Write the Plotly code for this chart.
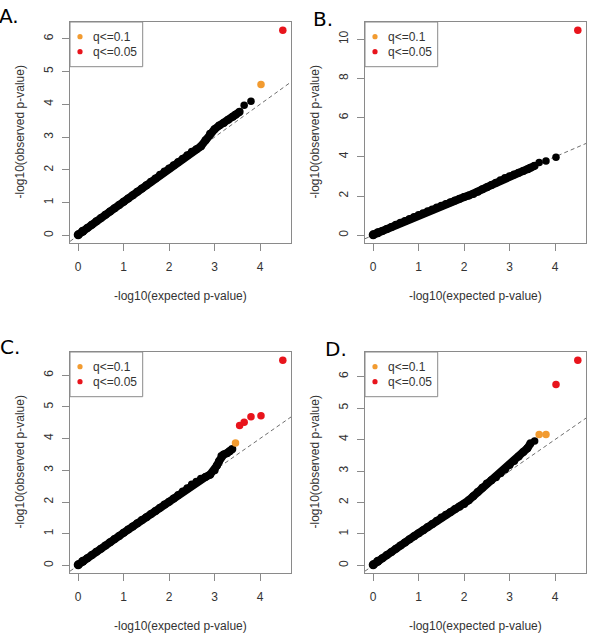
import plotly.graph_objects as go

W, H = 591, 643

# ---------------- data ----------------
panel_labels = ["A.", "B.", "C.", "D."]
legend_labels = ["q<=0.1", "q<=0.05"]
x_title = "-log10(expected p-value)"
y_title = "-log10(observed p-value)"
x_ticks = [0, 1, 2, 3, 4]
y_ticks_a = [0, 1, 2, 3, 4, 5, 6]
y_ticks_b = [0, 2, 4, 6, 8, 10]
y_ticks_c = [0, 1, 2, 3, 4, 5, 6]
y_ticks_d = [0, 1, 2, 3, 4, 5, 6]

# Panel A
a_x = [0.0, 0.1, 0.2, 0.3, 0.4, 0.5, 0.6, 0.7, 0.8, 0.9, 1.0, 1.1, 1.2, 1.3, 1.4, 1.5, 1.6, 1.7,
       1.8, 1.9, 2.0, 2.1, 2.2, 2.3, 2.4, 2.5, 2.6, 2.7, 2.8, 2.9, 3.0, 3.1, 3.2, 3.3, 3.4, 3.46, 3.55]
a_y = [0.02, 0.13, 0.23, 0.33, 0.43, 0.53, 0.63, 0.73, 0.83, 0.93, 1.03, 1.13, 1.23, 1.33, 1.43, 1.53, 1.64, 1.74,
       1.85, 1.95, 2.04, 2.14, 2.24, 2.34, 2.45, 2.55, 2.63, 2.72, 2.90, 3.10, 3.24, 3.35, 3.43, 3.53, 3.62, 3.68, 3.77]
a_tail_x = [3.65, 3.80]
a_tail_y = [3.97, 4.09]
a_q10_x = [4.02]
a_q10_y = [4.60]
a_q05_x = [4.50]
a_q05_y = [6.26]

# Panel B
b_x = [0.0, 0.1, 0.2, 0.3, 0.4, 0.5, 0.6, 0.7, 0.8, 0.9, 1.0, 1.1, 1.2, 1.3, 1.4, 1.5, 1.6, 1.7,
       1.8, 1.9, 2.0, 2.1, 2.2, 2.3, 2.4, 2.5, 2.6, 2.7, 2.8, 2.9, 3.0, 3.1, 3.2, 3.3, 3.4, 3.46, 3.55]
b_y = [0.02, 0.12, 0.22, 0.32, 0.42, 0.53, 0.63, 0.73, 0.83, 0.93, 1.03, 1.12, 1.22, 1.31, 1.41, 1.50, 1.59, 1.68,
       1.77, 1.86, 1.95, 2.02, 2.10, 2.22, 2.34, 2.45, 2.56, 2.68, 2.80, 2.92, 3.01, 3.10, 3.19, 3.27, 3.36, 3.44, 3.54]
b_tail_x = [3.65, 3.80, 4.02]
b_tail_y = [3.71, 3.79, 3.98]
b_q10_x = []
b_q10_y = []
b_q05_x = [4.50]
b_q05_y = [10.46]

# Panel C
c_x = [0.0, 0.1, 0.2, 0.3, 0.4, 0.5, 0.6, 0.7, 0.8, 0.9, 1.0, 1.1, 1.2, 1.3, 1.4, 1.5, 1.6, 1.7,
       1.8, 1.9, 2.0, 2.1, 2.2, 2.3, 2.4, 2.5, 2.6, 2.7, 2.8, 2.9, 3.0, 3.05, 3.1, 3.15, 3.2, 3.27, 3.33, 3.39]
c_y = [0.02, 0.13, 0.23, 0.33, 0.43, 0.53, 0.63, 0.73, 0.83, 0.93, 1.03, 1.13, 1.23, 1.33, 1.43, 1.52, 1.62, 1.72,
       1.82, 1.92, 2.01, 2.11, 2.22, 2.33, 2.43, 2.55, 2.64, 2.73, 2.79, 2.86, 3.00, 3.15, 3.29, 3.45, 3.50, 3.54, 3.60, 3.67]
c_tail_x = []
c_tail_y = []
c_q10_x = [3.46]
c_q10_y = [3.86]
c_q05_x = [3.55, 3.65, 3.80, 4.02, 4.50]
c_q05_y = [4.41, 4.51, 4.69, 4.72, 6.47]

# Panel D
d_x = [0.0, 0.1, 0.2, 0.3, 0.4, 0.5, 0.6, 0.7, 0.8, 0.9, 1.0, 1.1, 1.2, 1.3, 1.4, 1.5, 1.6, 1.7,
       1.8, 1.9, 2.0, 2.1, 2.2, 2.3, 2.4, 2.5, 2.6, 2.7, 2.8, 2.9, 3.0, 3.1, 3.2, 3.3, 3.39, 3.46]
d_y = [0.02, 0.13, 0.23, 0.33, 0.43, 0.53, 0.63, 0.73, 0.83, 0.93, 1.02, 1.12, 1.22, 1.32, 1.42, 1.52, 1.61, 1.70,
       1.79, 1.87, 1.95, 2.07, 2.20, 2.33, 2.47, 2.60, 2.71, 2.80, 2.93, 3.05, 3.19, 3.32, 3.46, 3.60, 3.72, 3.88]
d_tail_x = [3.55]
d_tail_y = [3.95]
d_q10_x = [3.65, 3.80]
d_q10_y = [4.16, 4.16]
d_q05_x = [4.02, 4.50]
d_q05_y = [5.75, 6.52]

# ---------------- styling ----------------
ORANGE = "#F29B30"
RED = "#E8141C"
BOX = "#8a8a8a"
TXT = "#333333"
FONT = "Liberation Sans"

# panel boxes in pixels: left, right, top, bottom
boxes = [(70, 291, 22, 243), (365, 586, 22, 243), (70, 291, 352, 573), (365, 586, 352, 573)]
label_pos = [(9, 16), (323, 19), (10, 347), (336, 349)]

panels = [
    (a_x, a_y, a_tail_x, a_tail_y, a_q10_x, a_q10_y, a_q05_x, a_q05_y, y_ticks_a),
    (b_x, b_y, b_tail_x, b_tail_y, b_q10_x, b_q10_y, b_q05_x, b_q05_y, y_ticks_b),
    (c_x, c_y, c_tail_x, c_tail_y, c_q10_x, c_q10_y, c_q05_x, c_q05_y, y_ticks_c),
    (d_x, d_y, d_tail_x, d_tail_y, d_q10_x, d_q10_y, d_q05_x, d_q05_y, y_ticks_d),
]


def px_x(p):
    return p / W


def px_y(p):
    return 1 - p / H


fig = go.Figure()
layout = dict(width=W, height=H, margin=dict(l=0, r=0, t=0, b=0),
              paper_bgcolor="white", plot_bgcolor="white", showlegend=False,
              font=dict(family=FONT, size=12, color=TXT))
shapes = []
annotations = []

for i, (bx, by, tx, ty, ox, oy, rx, ry, yt) in enumerate(panels):
    n = "" if i == 0 else str(i + 1)
    xa, ya = "x" + n, "y" + n
    left, right, top, bottom = boxes[i]

    all_x = bx + tx + ox + rx
    all_y = by + ty + oy + ry
    x_lo, x_hi = min(all_x), max(all_x)
    y_lo, y_hi = min(all_y), max(all_y)
    xr = [x_lo - 0.04 * (x_hi - x_lo), x_hi + 0.04 * (x_hi - x_lo)]
    yr = [y_lo - 0.04 * (y_hi - y_lo), y_hi + 0.04 * (y_hi - y_lo)]

    # y = x reference line
    fig.add_trace(go.Scatter(x=xr, y=xr, mode="lines", xaxis=xa, yaxis=ya,
                             line=dict(color="#6e6e6e", width=1, dash="4px,3px"), hoverinfo="skip"))
    # dense band of points
    fig.add_trace(go.Scatter(x=bx, y=by, mode="lines+markers", xaxis=xa, yaxis=ya,
                             line=dict(color="black", width=8),
                             marker=dict(color="black", size=8)))
    fig.add_trace(go.Scatter(x=bx[:2], y=by[:2], mode="markers", xaxis=xa, yaxis=ya,
                             marker=dict(color="black", size=9)))
    fig.add_trace(go.Scatter(x=tx, y=ty, mode="markers", xaxis=xa, yaxis=ya,
                             marker=dict(color="black", size=7.5)))
    fig.add_trace(go.Scatter(x=ox, y=oy, mode="markers", xaxis=xa, yaxis=ya,
                             marker=dict(color=ORANGE, size=7.5)))
    fig.add_trace(go.Scatter(x=rx, y=ry, mode="markers", xaxis=xa, yaxis=ya,
                             marker=dict(color=RED, size=7.5)))

    axis_common = dict(showline=True, linecolor=BOX, linewidth=1, mirror=True,
                       showgrid=False, zeroline=False, ticks="outside", ticklen=7,
                       tickcolor=BOX, tickwidth=1,
                       tickfont=dict(family=FONT, size=12, color=TXT))
    layout["xaxis" + n] = dict(axis_common, domain=[px_x(left), px_x(right)], range=xr,
                               anchor=ya, tickvals=x_ticks, ticklabelstandoff=6)
    layout["yaxis" + n] = dict(axis_common, domain=[px_y(bottom), px_y(top)], range=yr,
                               anchor=xa, tickvals=yt, tickangle=-90, ticklabelstandoff=4)

    # axis titles
    annotations.append(dict(x=px_x((left + right) / 2), y=px_y(bottom + 53), xref="paper", yref="paper",
                            text=x_title, showarrow=False, xanchor="center", yanchor="middle",
                            font=dict(family=FONT, size=12, color=TXT)))
    annotations.append(dict(x=px_x(left - 51), y=px_y((top + bottom) / 2), xref="paper", yref="paper",
                            text=y_title, showarrow=False, textangle=-90, xanchor="center", yanchor="middle",
                            font=dict(family=FONT, size=12, color=TXT)))
    # panel letter
    lx, ly = label_pos[i]
    annotations.append(dict(x=px_x(lx), y=px_y(ly), xref="paper", yref="paper",
                            text=panel_labels[i], showarrow=False, xanchor="center", yanchor="middle",
                            font=dict(family="DejaVu Sans", size=20, color="black")))

    # legend box
    shapes.append(dict(type="rect", xref="paper", yref="paper",
                       x0=px_x(left), x1=px_x(left + 72.7), y0=px_y(top + 44.7), y1=px_y(top),
                       line=dict(color=BOX, width=1), fillcolor="white", layer="above"))
    for j, col in enumerate([ORANGE, RED]):
        cy = top + 14.7 + 15 * j
        cx = left + 10
        r = 2.6
        shapes.append(dict(type="circle", xref="paper", yref="paper",
                           x0=px_x(cx - r), x1=px_x(cx + r), y0=px_y(cy + r), y1=px_y(cy - r),
                           line=dict(width=0), fillcolor=col, layer="above"))
        annotations.append(dict(x=px_x(left + 21), y=px_y(cy), xref="paper", yref="paper",
                                text=legend_labels[j], showarrow=False, xanchor="left", yanchor="middle",
                                font=dict(family=FONT, size=12, color=TXT)))

layout["shapes"] = shapes
layout["annotations"] = annotations
fig.update_layout(**layout)
fig.write_html("out.html")
